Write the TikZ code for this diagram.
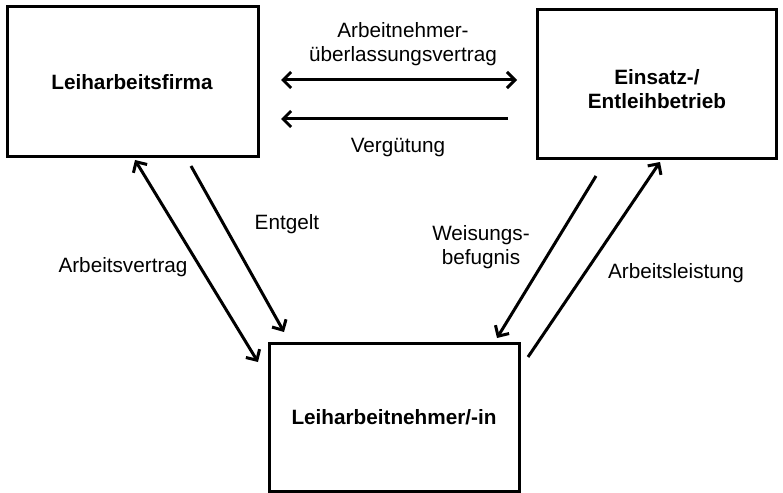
\documentclass[tikz,border=0pt]{standalone}
\usepackage{fontspec}
\setmainfont{Liberation Sans}
\usetikzlibrary{arrows.meta}
\begin{document}
\begin{tikzpicture}[x=1bp,y=-1bp,
  box/.style={draw, line width=3bp, inner sep=0pt},
  lbl/.style={font=\fontsize{20.8}{23.5}\selectfont, align=center, inner sep=0pt},
  blbl/.style={font=\fontsize{20.8}{23.5}\selectfont\bfseries, align=center, inner sep=0pt},
  conn/.style={line width=3bp, -{Straight Barb[length=8bp,width=16bp]}},
  conn2/.style={line width=3bp, {Straight Barb[length=8bp,width=16bp]}-{Straight Barb[length=8bp,width=16bp]}}
]
\useasboundingbox (0,0) rectangle (783,493);
% boxes
\draw[box] (7,7) rectangle (258,157);
\draw[box] (537,10) rectangle (776,159);
\draw[box] (269,343) rectangle (519,491);
\node[blbl] (firma) at (132,82) {Leiharbeitsfirma};
\node[blbl] (betrieb) at (657,89) {Einsatz-/\\Entleihbetrieb};
\node[blbl] (nehmer) at (394,417) {Leiharbeitnehmer/-in};
% connector end points
\coordinate (auvL) at (281,80);
\coordinate (auvR) at (517,80);
\coordinate (vgS) at (508,119);
\coordinate (vgE) at (281,119);
\coordinate (avA) at (135,160);
\coordinate (avB) at (258,362);
\coordinate (egS) at (191,166);
\coordinate (egE) at (284,332);
\coordinate (wbS) at (596,176);
\coordinate (wbE) at (497,338);
\coordinate (alS) at (528,357);
\coordinate (alE) at (660,162);
% connectors
\draw[conn2] (auvL) -- (auvR);
\draw[conn] (vgS) -- (vgE);
\draw[conn2] (avA) -- (avB);
\draw[conn] (egS) -- (egE);
\draw[conn] (wbS) -- (wbE);
\draw[conn] (alS) -- (alE);
% labels
\node[lbl] (lauv) at (403,44) {Arbeitnehmer-\\überlassungsvertrag};
\node[lbl] (lvg) at (398,148) {Vergütung};
\node[lbl] (leg) at (287,224) {Entgelt};
\node[lbl] (lav) at (123,267) {Arbeitsvertrag};
\node[lbl] (lwb) at (481,247) {Weisungs-\\befugnis};
\node[lbl] (lal) at (676,273) {Arbeitsleistung};
\end{tikzpicture}
\end{document}
